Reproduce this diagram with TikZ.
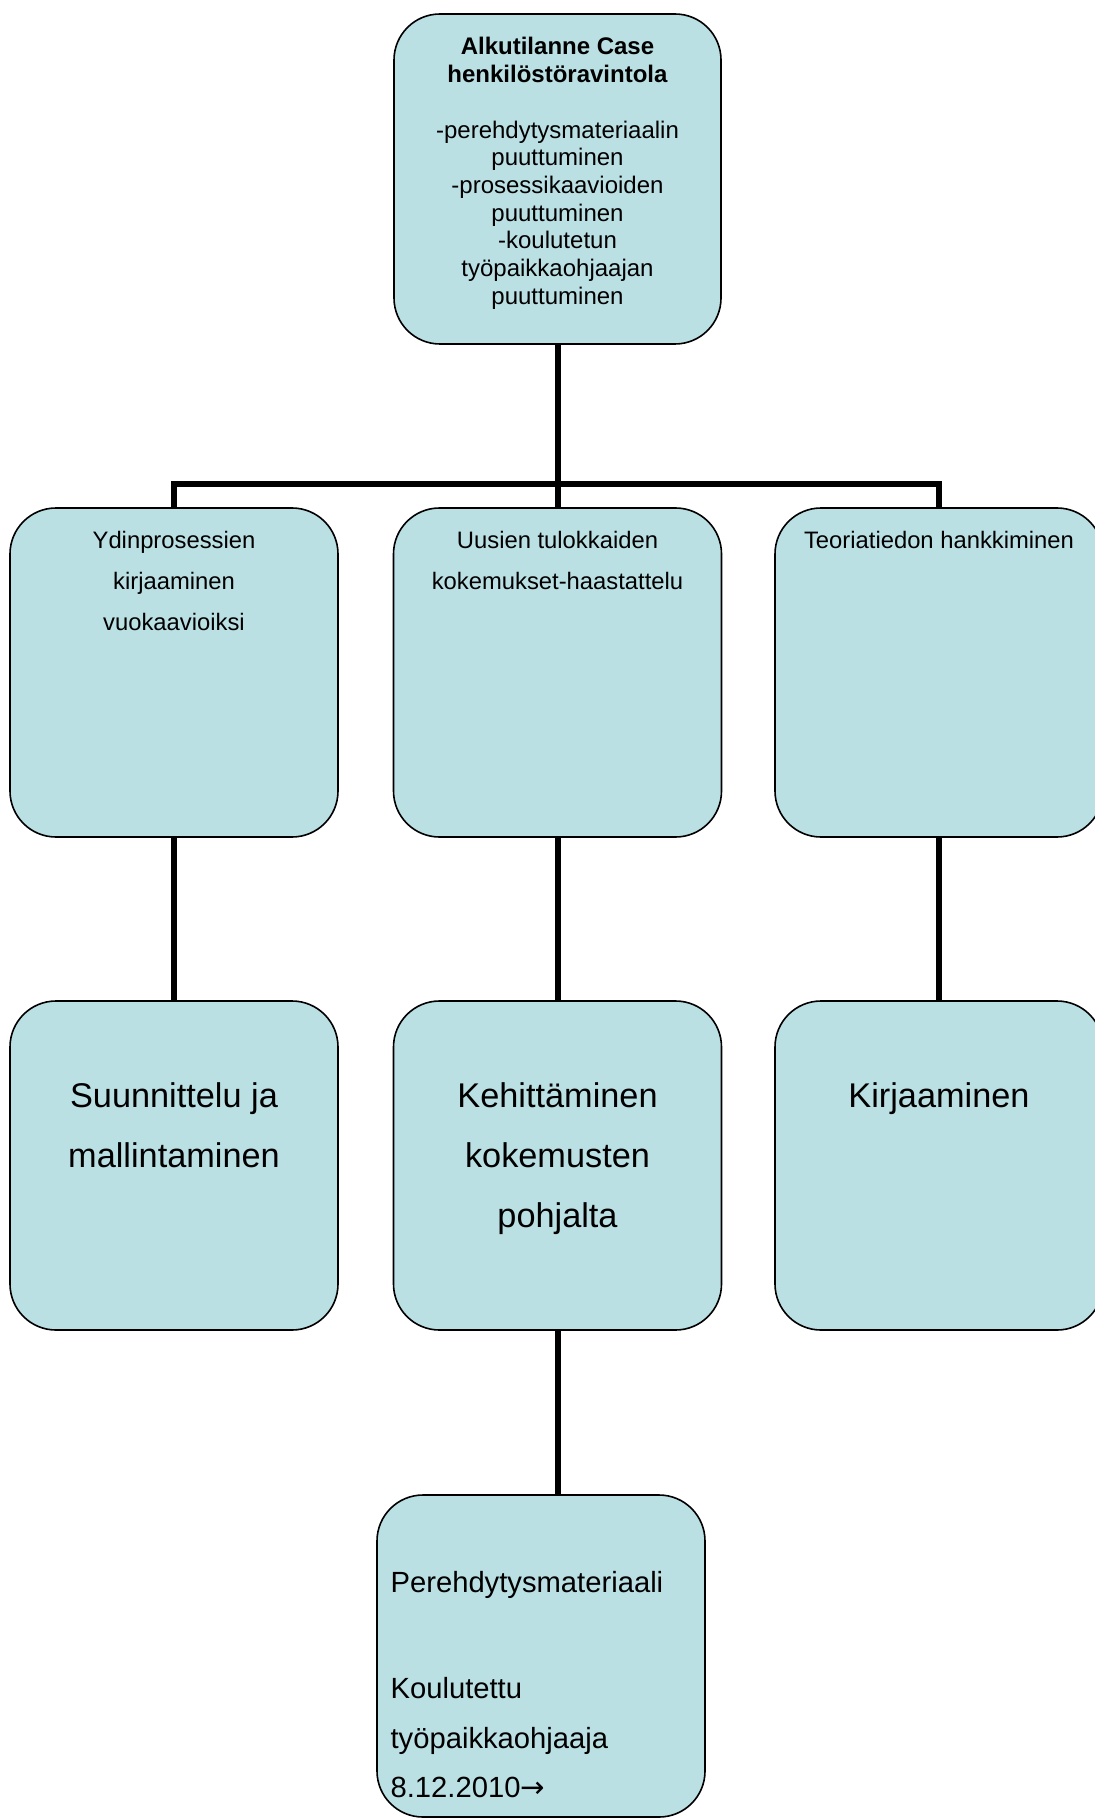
\documentclass[tikz,border=0pt]{standalone}
\usepackage{fontspec}
\setmainfont{Liberation Sans}
\newfontfamily\arrowfont{DejaVu Sans}
\usetikzlibrary{positioning}
\definecolor{boxfill}{RGB}{186,224,228}
\tikzset{
  box/.style={draw, line width=0.8pt, rounded corners=23pt, fill=boxfill, inner sep=0pt, minimum width=164pt, minimum height=164.5pt},
  link/.style={line width=3pt},
  toptext/.style={inner sep=0pt, align=center, font=\fontsize{12}{13.85}\selectfont},
  midtext/.style={inner sep=0pt, align=center, font=\fontsize{11.9}{20.5}\selectfont},
  bigtext/.style={inner sep=0pt, align=center, font=\fontsize{17.15}{30}\selectfont},
  listtext/.style={inner sep=0pt, align=left, font=\fontsize{14.6}{24.75}\selectfont}
}
\begin{document}
\begin{tikzpicture}[x=0.5pt, y=-0.5pt]
  \useasboundingbox (0,0) rectangle (1094,1818);
  \coordinate (bus) at (557.5,484);
  % boxes
  \node[box, minimum width=163.5pt, minimum height=165pt] (start) at (557.5,179) {};
  \node[box] (ydin) at (174,672.5) {};
  \node[box] (uusi) at (557.5,672.5) {};
  \node[box] (teoria) at (939,672.5) {};
  \node[box] (suunn) at (174,1165.5) {};
  \node[box] (kehit) at (557.5,1165.5) {};
  \node[box] (kirj) at (939,1165.5) {};
  \node[box, minimum height=161pt] (pere) at (541,1656) {};
  % connectors
  \draw[link] (start.south) -- (bus);
  \draw[link] (ydin.north) |- (bus) -| (teoria.north);
  \draw[link] (bus) -- (uusi.north);
  \draw[link] (ydin.south) -- (suunn.north);
  \draw[link] (uusi.south) -- (kehit.north);
  \draw[link] (teoria.south) -- (kirj.north);
  \draw[link] (kehit.south) -- (kehit.south |- pere.north);
  % texts
  \node[toptext, below=12pt of start.north] (start-t) {\textbf{Alkutilanne Case}\\\textbf{henkilöstöravintola}\\[13.85pt]-perehdytysmateriaalin\\puuttuminen\\-prosessikaavioiden\\puuttuminen\\-koulutetun\\työpaikkaohjaajan\\puuttuminen};
  \node[midtext, below=12pt of ydin.north] (ydin-t) {Ydinprosessien\\kirjaaminen\\vuokaavioiksi};
  \node[midtext, below=12pt of uusi.north] (uusi-t) {Uusien tulokkaiden\\kokemukset-haastattelu};
  \node[midtext, below=12pt of teoria.north] (teoria-t) {Teoriatiedon hankkiminen};
  \node[bigtext, below=41pt of suunn.north] (suunn-t) {Suunnittelu ja\\mallintaminen};
  \node[bigtext, below=41pt of kehit.north] (kehit-t) {Kehittäminen\\kokemusten\\pohjalta};
  \node[bigtext, below=41pt of kirj.north] (kirj-t) {Kirjaaminen};
  \node[listtext, below right=38.5pt and 7pt of pere.north west] (pere-t) {Perehdytysmateriaali\\[28.25pt]Koulutettu\\työpaikkaohjaaja\\8.12.2010{\arrowfont →}};
\end{tikzpicture}
\end{document}
